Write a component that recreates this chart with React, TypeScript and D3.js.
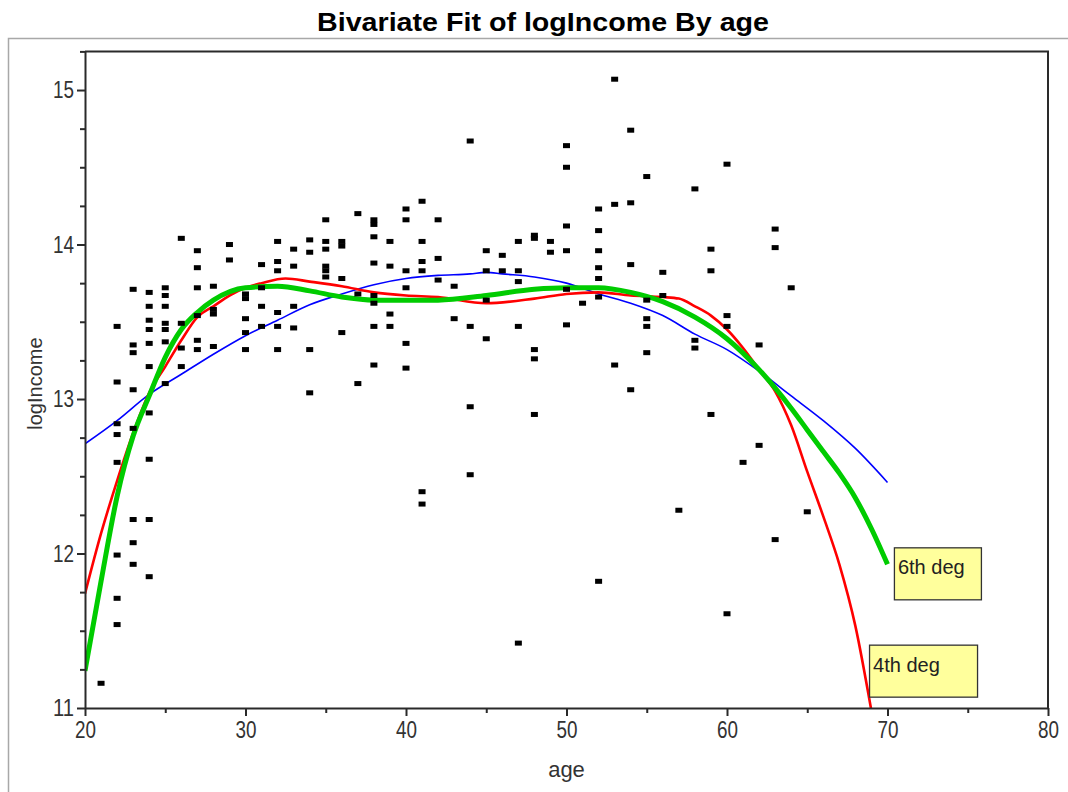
import React, { useRef, useEffect } from 'react';
import * as d3 from 'd3';

// observed points, grouped by age: [age, logIncome values]
const scatterRows: [number, number[]][] = [
  [21, [11.16]],
  [22, [13.47, 13.11, 12.84, 12.77, 12.59, 11.99, 11.71, 11.54]],
  [23, [13.71, 13.35, 13.3, 13.06, 12.81, 12.22, 12.07, 11.93]],
  [24, [13.69, 13.6, 13.51, 13.45, 13.36, 13.21, 12.91, 12.61, 12.22, 11.85]],
  [25, [13.72, 13.67, 13.6, 13.49, 13.45, 13.37, 13.1]],
  [26, [14.04, 13.49, 13.33, 13.21]],
  [27, [13.96, 13.85, 13.72, 13.54, 13.38, 13.32]],
  [28, [13.73, 13.58, 13.55, 13.34]],
  [29, [14.0, 13.9]],
  [30, [13.68, 13.65, 13.52, 13.43, 13.32]],
  [31, [13.87, 13.72, 13.6, 13.47]],
  [32, [14.02, 13.89, 13.83, 13.56, 13.47, 13.32]],
  [33, [13.97, 13.86, 13.6, 13.46]],
  [34, [14.03, 13.95, 13.32, 13.04]],
  [35, [14.16, 14.02, 13.97, 13.86, 13.83, 13.79]],
  [36, [14.02, 13.99, 13.78, 13.43]],
  [37, [14.2, 13.68, 13.1]],
  [38, [14.16, 14.13, 14.05, 13.88, 13.67, 13.62, 13.47, 13.22]],
  [39, [14.02, 13.86, 13.55, 13.47]],
  [40, [14.23, 14.16, 13.83, 13.72, 13.36, 13.2]],
  [41, [14.28, 14.02, 13.89, 13.83, 12.4, 12.32]],
  [42, [14.16, 13.91, 13.77]],
  [43, [13.73, 13.52]],
  [44, [14.67, 13.47, 12.95, 12.51]],
  [45, [13.96, 13.83, 13.64, 13.39]],
  [46, [13.93, 13.83]],
  [47, [14.02, 13.83, 13.76, 13.47, 11.42]],
  [48, [14.06, 14.04, 13.32, 13.26, 12.9]],
  [49, [14.02, 13.95]],
  [50, [14.64, 14.5, 14.12, 13.96, 13.71, 13.48]],
  [51, [13.62]],
  [52, [14.23, 14.09, 13.96, 13.85, 13.78, 13.66, 11.82]],
  [53, [15.07, 14.26, 13.22]],
  [54, [14.74, 14.27, 13.87, 13.06]],
  [55, [14.44, 13.64, 13.52, 13.47, 13.3]],
  [56, [13.82, 13.67]],
  [57, [12.28]],
  [58, [14.36, 13.38, 13.33]],
  [59, [13.97, 13.83, 12.9]],
  [60, [14.52, 13.54, 13.47, 11.61]],
  [61, [12.59]],
  [62, [13.35, 12.7]],
  [63, [14.1, 13.98, 12.09]],
  [64, [13.72]],
  [65, [12.27]],
];

// quadratic fit (blue)
const quadAges = [20, 22, 24, 26, 28, 30, 32, 34, 36, 38, 40, 42, 44, 45, 46, 48, 50, 52, 54, 56, 58, 60, 62, 64, 66, 68, 70];
const quadValues = [12.71, 12.86, 13.03, 13.16, 13.29, 13.41, 13.51, 13.61, 13.68, 13.74, 13.78, 13.8, 13.81, 13.82, 13.81, 13.79, 13.75, 13.68, 13.62, 13.54, 13.42, 13.32, 13.18, 13.02, 12.86, 12.68, 12.46];

// 4th degree fit (red)
const quarticAges = [20, 21, 22, 23, 24, 25, 26, 27, 28, 29, 30, 31, 32.5, 34, 36, 38, 40, 42, 45, 48, 50, 52, 54, 56, 57, 58, 59, 60, 61, 62, 63, 64, 65, 66, 67, 68, 69];
const quarticValues = [11.74, 12.13, 12.47, 12.78, 13.04, 13.21, 13.38, 13.53, 13.6, 13.67, 13.72, 13.75, 13.78, 13.76, 13.73, 13.69, 13.67, 13.66, 13.62, 13.65, 13.68, 13.69, 13.67, 13.66, 13.65, 13.6, 13.54, 13.45, 13.33, 13.19, 13.05, 12.83, 12.53, 12.24, 11.93, 11.53, 10.98];

// 6th degree fit (green)
const sexticAges = [20, 21, 22, 23, 24, 25, 26, 27, 28, 30, 32, 34, 36, 38, 40, 42, 45, 48, 50, 52, 54, 56, 58, 60, 62, 64, 65, 66, 67, 68, 69, 70];
const sexticValues = [11.24, 11.82, 12.37, 12.76, 13.02, 13.27, 13.45, 13.56, 13.64, 13.72, 13.73, 13.7, 13.66, 13.64, 13.64, 13.64, 13.67, 13.71, 13.72, 13.72, 13.69, 13.63, 13.53, 13.39, 13.19, 12.94, 12.8, 12.66, 12.52, 12.36, 12.16, 11.93];

const xMajorTicks = [20, 30, 40, 50, 60, 70, 80];
const xMinorTicks = [25, 35, 45, 55, 65, 75];
const yMajorTicks = [11, 12, 13, 14, 15];
const yMinorTicks = [11.25, 11.5, 11.75, 12.25, 12.5, 12.75, 13.25, 13.5, 13.75, 14.25, 14.5, 14.75, 15.25];

// callout boxes, top-left corner in data units
const fitLabels = [
  { text: '6th deg', age: 70.4, value: 12.04 },
  { text: '4th deg', age: 68.85, value: 11.41 },
];

const App = () => {
  const svgRef = useRef<SVGSVGElement>(null);

  useEffect(() => {
    const svg = d3.select(svgRef.current);
    svg.selectAll('*').remove();

    const x = d3.scaleLinear().domain([20, 80]).range([85, 1048]);
    const y = d3.scaleLinear().domain([11, 15.25]).range([708, 51.4]);
    const font = "'Liberation Sans', Arial, sans-serif";

    // outer frame
    svg.append('rect')
      .attr('x', 8.5).attr('y', 38.5)
      .attr('width', 1080).attr('height', 780)
      .attr('fill', 'none').attr('stroke', '#a8a8a8').attr('stroke-width', 1.5);

    svg.append('text')
      .attr('x', 543).attr('y', 31)
      .attr('text-anchor', 'middle')
      .attr('font-family', font).attr('font-weight', 'bold').attr('font-size', 25)
      .attr('textLength', 452).attr('lengthAdjust', 'spacingAndGlyphs')
      .attr('fill', '#000')
      .text('Bivariate Fit of logIncome By age');

    svg.append('defs').append('clipPath').attr('id', 'plotClip')
      .append('rect')
      .attr('x', x(20)).attr('y', y(15.25))
      .attr('width', x(80) - x(20)).attr('height', y(11) - y(15.25));

    const plot = svg.append('g').attr('clip-path', 'url(#plotClip)');

    const line = d3.line<[number, number]>()
      .x(d => x(d[0]))
      .y(d => y(d[1]))
      .curve(d3.curveMonotoneX);

    const fits = [
      { ages: quadAges, vals: quadValues, color: '#0000ff', width: 1.6 },
      { ages: quarticAges, vals: quarticValues, color: '#ff0000', width: 2.6 },
      { ages: sexticAges, vals: sexticValues, color: '#00cc00', width: 5 },
    ];
    fits.forEach(f => {
      plot.append('path')
        .attr('d', line(f.ages.map((a, i) => [a, f.vals[i]] as [number, number])))
        .attr('fill', 'none')
        .attr('stroke', f.color)
        .attr('stroke-width', f.width)
        .attr('stroke-linejoin', 'round');
    });

    const pts = scatterRows.flatMap(([age, vals]) => vals.map(v => ({ age, v })));
    plot.selectAll('.pt')
      .data(pts)
      .enter()
      .append('rect')
      .attr('class', 'pt')
      .attr('x', d => x(d.age) - 3.5)
      .attr('y', d => y(d.v) - 2.5)
      .attr('width', 7)
      .attr('height', 5)
      .attr('fill', '#000');

    // axes
    const axisColor = '#2a2a2a';
    const left = svg.append('g').attr('transform', `translate(${x(20)},0)`);
    left.call(d3.axisLeft(y).tickValues(yMajorTicks).tickSize(8).tickSizeOuter(0).tickPadding(3).tickFormat(d3.format('d')));
    left.append('g').call(d3.axisLeft(y).tickValues(yMinorTicks).tickSize(5).tickSizeOuter(0).tickFormat(() => ''))
      .select('.domain').remove();

    const bottom = svg.append('g').attr('transform', `translate(0,${y(11)})`);
    bottom.call(d3.axisBottom(x).tickValues(xMajorTicks).tickSize(8).tickSizeOuter(0).tickPadding(5).tickFormat(d3.format('d')));
    bottom.append('g').call(d3.axisBottom(x).tickValues(xMinorTicks).tickSize(5).tickSizeOuter(0).tickFormat(() => ''))
      .select('.domain').remove();

    [left, bottom].forEach(g => {
      g.selectAll('path, line').attr('stroke', axisColor).attr('stroke-width', 2);
      g.selectAll('text')
        .attr('font-family', font).attr('font-size', 24).attr('fill', '#333')
        .attr('textLength', 21).attr('lengthAdjust', 'spacingAndGlyphs');
    });

    // top and right border
    svg.append('line')
      .attr('x1', x(20)).attr('x2', x(80) + 1).attr('y1', y(15.25)).attr('y2', y(15.25))
      .attr('stroke', axisColor).attr('stroke-width', 2);
    svg.append('line')
      .attr('x1', x(80)).attr('x2', x(80)).attr('y1', y(15.25)).attr('y2', y(11))
      .attr('stroke', axisColor).attr('stroke-width', 2);

    svg.append('text')
      .attr('x', x(50)).attr('y', 777)
      .attr('text-anchor', 'middle')
      .attr('font-family', font).attr('font-size', 22).attr('fill', '#333')
      .text('age');

    svg.append('text')
      .attr('transform', `translate(42,${y(13.1)}) rotate(-90)`)
      .attr('text-anchor', 'middle')
      .attr('font-family', font).attr('font-size', 20).attr('fill', '#333')
      .text('logIncome');

    // callouts
    const boxW = [87, 108];
    const boxH = 52;
    fitLabels.forEach((l, i) => {
      const bx = x(l.age);
      const by = y(l.value);
      svg.append('rect')
        .attr('x', bx + 0.5).attr('y', by + 0.5)
        .attr('width', boxW[i]).attr('height', boxH)
        .attr('fill', '#ffff9c').attr('stroke', '#333').attr('stroke-width', 1.3);
      svg.append('text')
        .attr('x', bx + 4).attr('y', by + 27)
        .attr('font-family', font).attr('font-size', 20).attr('fill', '#222')
        .text(l.text);
    });
  }, []);

  return (
    <div>
      <svg ref={svgRef} width={1068} height={792} style={{ position: 'absolute', left: 0, top: 0, background: '#fff' }} />
    </div>
  );
};

export default App;
